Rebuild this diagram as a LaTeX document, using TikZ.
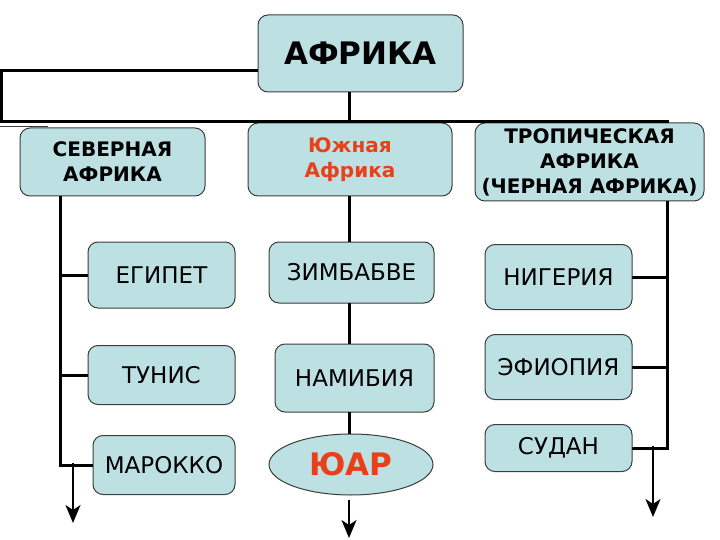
\documentclass[tikz,border=0pt]{standalone}
\usepackage{fontspec}
\setmainfont{DejaVu Sans}
\usepackage{tikz}
\usetikzlibrary{arrows.meta,shapes.geometric}
\definecolor{boxfill}{RGB}{189,224,227}
\definecolor{boxline}{RGB}{60,60,60}
\definecolor{accent}{RGB}{232,65,26}

\begin{document}
\begin{tikzpicture}[x=1pt,y=-1pt,
		box/.style={draw=boxline,fill=boxfill,rounded corners=10pt,line width=1pt,
			align=center,inner sep=2pt,outer sep=0pt},
		head/.style={box,font=\bfseries\fontsize{20}{25}\selectfont},
		land/.style={box,font=\fontsize{23}{26}\selectfont},
		link/.style={line width=3pt},
		arr/.style={line width=2.2pt,-{Stealth[length=18pt,width=15pt,inset=5pt]}}]
		
		\useasboundingbox (0,0) rectangle (720,540);
		
		% top
		\node[box,minimum width=205pt,minimum height=77pt,font=\bfseries\fontsize{31}{34}\selectfont] (afrika) at (360.5,53.5) {АФРИКА};
		
		% regions
		\node[head,minimum width=185pt,minimum height=68pt] (north) at (112.5,162) {СЕВЕРНАЯ\\ АФРИКА};
		\node[head,minimum width=204pt,minimum height=73pt,text=accent] (south) at (350,159.5) {Южная\\Африка};
		\node[head,minimum width=229pt,minimum height=78pt] (tropic) at (589.5,162) {ТРОПИЧЕСКАЯ\\АФРИКА\\(ЧЕРНАЯ АФРИКА)};
		
		% countries, north
		\node[land,minimum width=147pt,minimum height=66pt] (egypt) at (161.5,275) {ЕГИПЕТ};
		\node[land,minimum width=147pt,minimum height=59pt] (tunis) at (161.5,375) {ТУНИС};
		\node[land,minimum width=142pt,minimum height=59pt] (morocco) at (164,465) {МАРОККО};
		
		% countries, south
		\node[land,minimum width=165pt,minimum height=61pt] (zimb) at (351.5,272.5) {ЗИМБАБВЕ};
		\node[land,minimum width=159pt,minimum height=68pt] (namib) at (354.5,378) {НАМИБИЯ};
		\node[ellipse,draw=boxline,fill=boxfill,line width=1pt,inner sep=0pt,outer sep=0pt,
			minimum width=164pt,minimum height=61pt,text=accent,
			font=\bfseries\fontsize{31}{34}\selectfont] (sar) at (351,464.5) {ЮАР};
		
		% countries, tropic
		\node[land,minimum width=147pt,minimum height=65pt] (nigeria) at (558.5,277) {НИГЕРИЯ};
		\node[land,minimum width=147pt,minimum height=65pt] (ethiopia) at (558.5,367) {ЭФИОПИЯ};
		\node[land,minimum width=147pt,minimum height=47pt] (sudan) at (558.5,448) {СУДАН};
		
		% trunk coordinates
		\coordinate (nl) at (60,0);
		\coordinate (tl) at (667,0);
		\coordinate (ml) at (349,0);
		\coordinate (nout) at (73,523);
		\coordinate (sout) at (349,538);
		\coordinate (tout) at (653,517);
		
		% loop from the top
		\draw[link] ([yshift=-17.5pt]afrika.west) -- (1.5,71) -- (1.5,122) -- (669,122);
		\draw[line width=1pt,boxline] (0,126.5) -- (48,126.5);
		\draw[link] (ml |- afrika.south) -- (ml |- south.north);
		
		% north
		\draw[link] (nl |- north.south) -- (nl |- morocco.west) -- (morocco.west);
		\draw[link] (egypt.west) -- (egypt.west -| nl);
		\draw[link] (tunis.west) -- (tunis.west -| nl);
		\draw[arr] ([yshift=2pt]nout |- morocco.west) -- (nout);
		
		% south
		\draw[link] (ml |- south.south) -- (ml |- zimb.north);
		\draw[link] (ml |- zimb.south) -- (ml |- namib.north);
		\draw[link] (ml |- namib.south) -- (ml |- sar.north);
		\draw[arr] ([yshift=-5pt]sout |- sar.south) -- (sout);
		
		% tropic
		\draw[link] (tl |- tropic.south) -- (tl |- sudan.east) -- (sudan.east);
		\draw[link] (nigeria.east) -- (nigeria.east -| tl);
		\draw[link] (ethiopia.east) -- (ethiopia.east -| tl);
		\draw[arr] ([yshift=2pt]tout |- sudan.east) -- (tout);
		
	\end{tikzpicture}
\end{document}
